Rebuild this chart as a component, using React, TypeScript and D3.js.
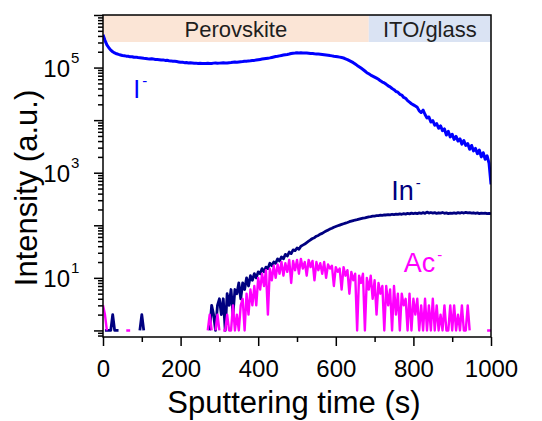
import React, { useRef, useEffect } from "react";
import * as d3 from "d3";

// sputtering time grid (s), one reading every 5 s
const times = d3.range(0, 1001, 5);

// I- counts
const iodide = [
  420000, 330000, 270000, 238000, 215000, 200000, 190000, 183000, 178000, 174000, 170000, 168000, 165000, 164000, 160000, 161000, 157000, 158000, 155000, 154000,
  152000, 150000, 149000, 147000, 146000, 147500, 145000, 143000, 142000, 141000, 139000, 140000, 137000, 137500, 135000, 134000, 132000, 131500, 130000, 128000,
  126000, 126500, 124000, 124500, 122000, 123500, 122500, 121000, 121500, 120000, 120500, 119000, 119500, 120000, 121000, 119500, 120000, 121500, 122000, 121000,
  121500, 122500, 123000, 122000, 122500, 124000, 124500, 126000, 127000, 126500, 128000, 129500, 130000, 131500, 132000, 134000, 134500, 136000, 137000, 139000,
  141000, 143000, 145000, 147000, 149000, 151000, 153000, 156000, 159000, 162000, 164000, 167000, 170000, 173000, 176000, 178000, 181000, 185000, 188000, 189000,
  191000, 190000, 192000, 190000, 189000, 190000, 188000, 186000, 185000, 183000, 182000, 181000, 180000, 178000, 176000, 174000, 172000, 169000, 167000, 164000,
  162000, 160000, 158000, 155000, 152000, 147000, 142000, 136000, 130000, 124000, 117000, 110000, 104000, 98000, 92000, 86000, 80000, 76000, 72000, 69000,
  66000, 63000, 60000, 56000, 53000, 51000, 48000, 45000, 43000, 40000, 38000, 35000, 34000, 31000, 30000, 27000, 26000, 23500, 22000, 20500,
  19500, 18500, 17500, 15000, 14000, 15500, 12800, 11000, 11500, 9200, 9800, 8000, 8600, 7000, 7800, 6300, 6800, 5200, 6100, 4800,
  5400, 4300, 4900, 4000, 4400, 3500, 4100, 3300, 3600, 2800, 3300, 2600, 2900, 2300, 2700, 2000, 2400, 1800, 2100, 1500, 600,
];

// In- counts (0 = no count)
const indium = [
  0, 1, 1, 1, 1, 2, 1, 1, 1, 0, 0, 0, 0, 0, 0, 0, 0, 0, 0, 1,
  2, 1, 0, 0, 0, 0, 0, 0, 0, 0, 0, 0, 0, 0, 0, 0, 0, 1, 0, 0,
  0, 0, 0, 0, 0, 0, 0, 0, 0, 0, 0, 0, 0, 0, 0, 1, 3, 2, 1, 3,
  4, 2, 4, 1, 5, 3, 6, 2, 6, 5, 8, 4, 8, 6, 10, 7, 11, 9, 12, 10,
  13, 12, 15, 13, 16, 15, 19, 17, 20, 19, 23, 21, 25, 23, 28, 26, 31, 29, 34, 33,
  37, 35, 40, 42, 44, 47, 50, 53, 56, 58, 62, 64, 68, 70, 74, 78, 81, 85, 88, 92,
  95, 98, 101, 104, 107, 110, 113, 117, 120, 123, 126, 128, 131, 134, 137, 139, 142, 145, 146, 149,
  150, 152, 153, 156, 155, 158, 157, 160, 158, 162, 160, 163, 161, 165, 162, 166, 163, 168, 165, 170,
  166, 171, 167, 172, 168, 174, 169, 178, 171, 175, 170, 174, 168, 173, 170, 175, 169, 172, 167, 171,
  168, 172, 169, 174, 170, 175, 171, 176, 172, 174, 170, 173, 169, 172, 167, 171, 168, 170, 166, 169, 167,
];

// Ac- counts (0 = no count)
const acetate = [
  3, 2, 1, 0, 0, 0, 0, 0, 0, 0, 0, 0, 1, 1, 1, 0, 0, 0, 0, 0,
  0, 0, 0, 0, 0, 0, 0, 0, 0, 0, 0, 0, 1, 0, 0, 0, 0, 0, 0, 0,
  0, 0, 0, 0, 0, 0, 0, 0, 0, 0, 0, 0, 0, 0, 1, 2, 1, 0, 1, 2,
  1, 0, 1, 1, 2, 1, 1, 3, 1, 2, 1, 3, 4, 1, 5, 2, 6, 3, 7, 3,
  10, 6, 12, 7, 14, 2, 15, 9, 17, 10, 18, 12, 20, 11, 19, 13, 22, 8, 21, 14,
  22, 12, 23, 15, 20, 11, 22, 16, 21, 9, 20, 14, 19, 12, 20, 10, 18, 15, 17, 7,
  16, 13, 15, 6, 16, 11, 14, 5, 13, 9, 12, 1, 11, 8, 12, 1, 10, 6, 11, 4,
  9, 2, 8, 5, 7, 1, 7, 3, 6, 1, 7, 2, 5, 1, 5, 3, 4, 1, 5, 1,
  4, 2, 4, 1, 3, 1, 4, 1, 3, 1, 4, 1, 3, 1, 2, 1, 3, 1, 1, 3,
  1, 3, 1, 2, 1, 3, 1, 1, 3, 1, 0, 0, 0, 0, 1, 0, 0, 0, 1, 1, 1,
];

const seriesNames = ["I", "In", "Ac"];
const layerNames = ["Perovskite", "ITO/glass"];
const layerBounds = [0, 685, 1000];
const xMajorTicks = [0, 200, 400, 600, 800, 1000];
const xMinorTicks = [100, 300, 500, 700, 900];
const yDecades = [1, 10, 100, 1000, 10000, 100000, 1000000];
const yLabelled = [10, 1000, 100000];

const seriesColors = ["#0000ff", "#000080", "#ff00ff"];
const layerColors = ["#fbe5d6", "#dae3f3"];
const font = "Arial, 'Liberation Sans', sans-serif";

const App = () => {
  const svgRef = useRef<SVGSVGElement>(null);

  useEffect(() => {
    const width = 542;
    const height = 421;
    const x = d3.scaleLinear().domain([0, 1000]).range([103, 491]);
    const y = d3.scaleLog().domain([0.75, 1e6]).range([337, 15]);

    const svg = d3.select(svgRef.current);
    svg.selectAll("*").remove();
    svg.attr("width", width).attr("height", height);

    svg.append("rect").attr("width", width).attr("height", height).attr("fill", "white");

    // layer bands along the top
    const layers = layerNames.map((name, i) => ({ name, from: layerBounds[i], to: layerBounds[i + 1] }));
    const band = svg.append("g");
    band
      .selectAll("rect")
      .data(layers)
      .join("rect")
      .attr("x", (d) => x(d.from))
      .attr("y", 15)
      .attr("width", (d) => x(d.to) - x(d.from))
      .attr("height", 27)
      .attr("fill", (d, i) => layerColors[i]);
    band
      .selectAll("text")
      .data(layers)
      .join("text")
      .attr("x", (d) => (x(d.from) + x(d.to)) / 2)
      .attr("y", 37)
      .attr("text-anchor", "middle")
      .attr("font-family", font)
      .attr("font-size", 22)
      .attr("fill", "#1e1e1e")
      .text((d) => d.name);

    // clip to plot area
    svg
      .append("clipPath")
      .attr("id", "plot-clip")
      .append("rect")
      .attr("x", 103)
      .attr("y", 15)
      .attr("width", 388)
      .attr("height", 322);

    const line = d3
      .line<number>()
      .defined((v) => v > 0)
      .x((_, i) => x(times[i]))
      .y((v) => y(v));

    const allSeries = [iodide, indium, acetate];
    const widths = [3, 2.8, 2.4];
    svg
      .append("g")
      .attr("clip-path", "url(#plot-clip)")
      .selectAll("path")
      .data(allSeries)
      .join("path")
      .attr("d", (d) => line(d))
      .attr("fill", "none")
      .attr("stroke", (_, i) => seriesColors[i])
      .attr("stroke-width", (_, i) => widths[i])
      .attr("stroke-linejoin", "round")
      .attr("stroke-linecap", "butt");

    // series labels
    const labelSpots = [
      { t: 78, v: 26000 },
      { t: 743, v: 300 },
      { t: 775, v: 13 },
    ];
    const labelSizes = [25, 27, 27];
    seriesNames.forEach((name, i) => {
      const t = svg
        .append("text")
        .attr("x", x(labelSpots[i].t))
        .attr("y", y(labelSpots[i].v))
        .attr("font-family", font)
        .attr("font-size", labelSizes[i])
        .attr("fill", seriesColors[i])
        .text(name);
      t.append("tspan").attr("dy", -12).attr("dx", 2).attr("font-size", 15).text("-");
    });

    // frame
    svg
      .append("rect")
      .attr("x", 103)
      .attr("y", 15)
      .attr("width", 388)
      .attr("height", 322)
      .attr("fill", "none")
      .attr("stroke", "black")
      .attr("stroke-width", 1.5);

    const styleAxis = (g: any) => {
      g.select(".domain").remove();
      g.selectAll("line").attr("stroke", "black").attr("stroke-width", 1.5);
    };

    // x axis
    svg
      .append("g")
      .attr("transform", "translate(0,337)")
      .call(d3.axisBottom(x).tickValues(xMajorTicks).tickSize(9).tickFormat(d3.format("d")))
      .call(styleAxis)
      .call((g) =>
        g
          .selectAll("text")
          .attr("dy", null)
          .attr("y", 40)
          .attr("font-family", font)
          .attr("font-size", 24)
          .attr("fill", "black")
      );
    svg
      .append("g")
      .attr("transform", "translate(0,337)")
      .call(d3.axisBottom(x).tickValues(xMinorTicks).tickSize(5).tickFormat(() => ""))
      .call(styleAxis);

    // y axis
    svg
      .append("g")
      .attr("transform", "translate(103,0)")
      .call(d3.axisLeft(y).tickValues(yDecades).tickSize(9).tickFormat(() => ""))
      .call(styleAxis);
    svg
      .append("g")
      .attr("transform", "translate(103,0)")
      .call(
        d3
          .axisLeft(y)
          .tickValues(y.ticks().filter((v) => !yDecades.includes(v)))
          .tickSize(5)
          .tickFormat(() => "")
      )
      .call(styleAxis);

    const yLab = svg.append("g").attr("font-family", font).attr("fill", "black");
    yLab
      .selectAll("text.base")
      .data(yLabelled)
      .join("text")
      .attr("class", "base")
      .attr("x", 70)
      .attr("y", (d) => y(d) + 9)
      .attr("text-anchor", "end")
      .attr("font-size", 24)
      .text("10");
    yLab
      .selectAll("text.exp")
      .data(yLabelled)
      .join("text")
      .attr("class", "exp")
      .attr("x", 71)
      .attr("y", (d) => y(d) - 5)
      .attr("font-size", 15)
      .text((d) => String(Math.round(Math.log10(d))));

    // axis titles
    svg
      .append("text")
      .attr("transform", "translate(37,188) rotate(-90)")
      .attr("text-anchor", "middle")
      .attr("font-family", font)
      .attr("font-size", 31)
      .attr("fill", "black")
      .text("Intensity (a.u.)");
    svg
      .append("text")
      .attr("x", 294)
      .attr("y", 413)
      .attr("text-anchor", "middle")
      .attr("font-family", font)
      .attr("font-size", 31)
      .attr("fill", "black")
      .text("Sputtering time (s)");
  }, []);

  return <svg ref={svgRef} style={{ position: "absolute", left: 0, top: 0 }}></svg>;
};

export default App;
